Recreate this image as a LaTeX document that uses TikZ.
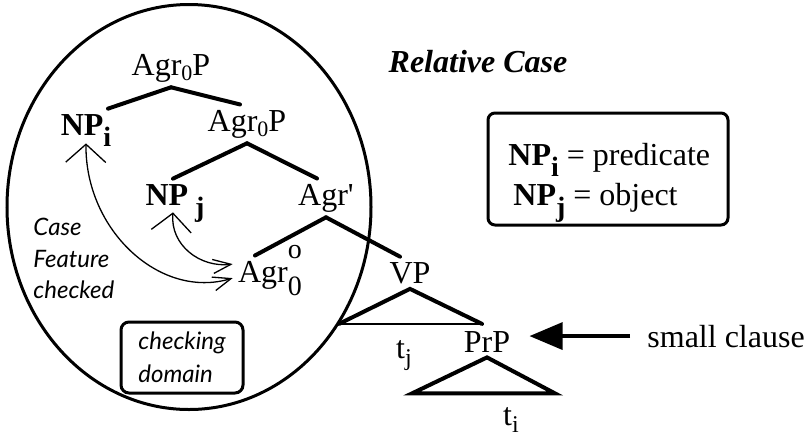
\documentclass[tikz,border=0pt]{standalone}
\usepackage{fontspec}
\setmainfont{Liberation Serif}
\newfontfamily\notefont{Lato}
\usetikzlibrary{arrows.meta}

\newcommand{\lsub}[1]{\raisebox{-2.5pt}{\fontsize{11}{11}\selectfont #1}}
\newcommand{\bsub}[1]{\raisebox{-5.5pt}{\fontsize{14}{14}\selectfont\bfseries #1}}
\newcommand{\tsub}[1]{\raisebox{-3.8pt}{\fontsize{12}{12}\selectfont #1}}
\newcommand{\agrhead}{Agr\rlap{\smash{\raisebox{12pt}{\fontsize{14}{14}\selectfont o}}}\raisebox{-6.5pt}{\fontsize{14}{14}\selectfont 0}}

\begin{document}
\begin{tikzpicture}[x=0.5pt, y=-0.5pt,
    lbl/.style={anchor=base, inner sep=2.5pt, font=\fontsize{16}{19}\selectfont},
    branch/.style={line width=2pt, line cap=round},
    floor/.style={line width=1.3pt},
    zone/.style={line width=1.5pt},
    note/.style={anchor=north west, inner sep=0pt, align=left, font=\notefont\itshape\fontsize{12}{15.75}\selectfont},
    checkbox/.style={draw, line width=1.5pt, rounded corners=4pt, minimum width=61pt, minimum height=35.5pt, align=left, inner sep=0pt, font=\notefont\itshape\fontsize{12}{16.5}\selectfont},
    keybox/.style={draw, line width=1.5pt, rounded corners=3.5pt, minimum width=120pt, minimum height=56pt},
    keytext/.style={anchor=base west, inner sep=0pt, font=\fontsize{16}{19}\selectfont},
    link/.style={line width=0.65pt, {Straight Barb[length=9pt,width=7pt]}-{Straight Barb[length=9pt,width=20pt]}},
    pointer/.style={line width=1.6pt, -{Triangle[length=16.5pt,width=13.5pt]}},
]
\useasboundingbox (0,0) rectangle (808,440);

% checking domain
\draw[zone] (189,207) ellipse [x radius=91pt, y radius=101.25pt];

% tree
\node[lbl] (agrA) at (171,75) {Agr\lsub{0}P};
\node[lbl] (npi) at (86,135) {\textbf{NP\bsub{i}}};
\node[lbl] (agrB) at (247,131) {Agr\lsub{0}P};
\node[lbl] (npj) at (175,205) {\textbf{NP\hspace{3.5pt}\bsub{j}}};
\node[lbl] (agrC) at (326,205) {Agr\textquotesingle};
\node[lbl] (agr0) at (270,282) {\agrhead};
\node[lbl] (vp) at (410,283) {VP};
\node[lbl] (tj) at (404,358) {t\tsub{j}};
\node[lbl] (prp) at (487,352) {PrP};
\node[lbl] (ti) at (511,425) {t\tsub{i}};

\draw[branch] (agrA.south) -- ([xshift=11pt]npi.north);
\draw[branch] (agrA.south) -- ([xshift=-3.5pt]agrB.north);
\draw[branch] (agrB.south) -- ([xshift=-1pt]npj.north);
\draw[branch] (agrB.south) -- ([xshift=-4.5pt]agrC.north);
\draw[branch] (agrC.south) -- ([xshift=-7.5pt]agr0.north);
\draw[branch] (agrC.south) -- ([xshift=-5pt]vp.north);

\draw[branch] (vp.south) ++(-71,35) coordinate (vpL) -- (vp.south) -- ++(72,35) coordinate (vpR);
\draw[floor] (vpL) -- (vpR);
\draw[branch] (prp.south) ++(-75,36) coordinate (prpL) -- (prp.south) -- ++(68,36) coordinate (prpR) -- cycle;

% feature checking
\draw[link] (agr0.west) .. controls (160,300) and (85,230) .. ([yshift=4pt]npi.south);
\draw[link] ([yshift=7pt]agr0.west) .. controls (200,268) and (170,245) .. ([xshift=-1pt,yshift=7.5pt]npj.south);

\node[note] (feat) at (33,218) {Case\\Feature\\checked};
\node[checkbox] (chk) at (182,357.5) {checking\\domain};

% key
\node[lbl, font=\bfseries\itshape\fontsize{16}{19}\selectfont] (title) at (478,72) {Relative Case};
\node[keybox] (key) at (608,169) {};
\node[keytext] (keyi) at (508,165) {\textbf{NP\bsub{i}} = predicate};
\node[keytext] (keyj) at (513,205) {\textbf{NP\bsub{j}} = object};

\node[lbl, anchor=base west] (sc) at (642,347) {small clause};
\draw[pointer, shorten <=6pt, shorten >=7pt] (sc.west) -- (sc.west -| prp.east);
\end{tikzpicture}
\end{document}
